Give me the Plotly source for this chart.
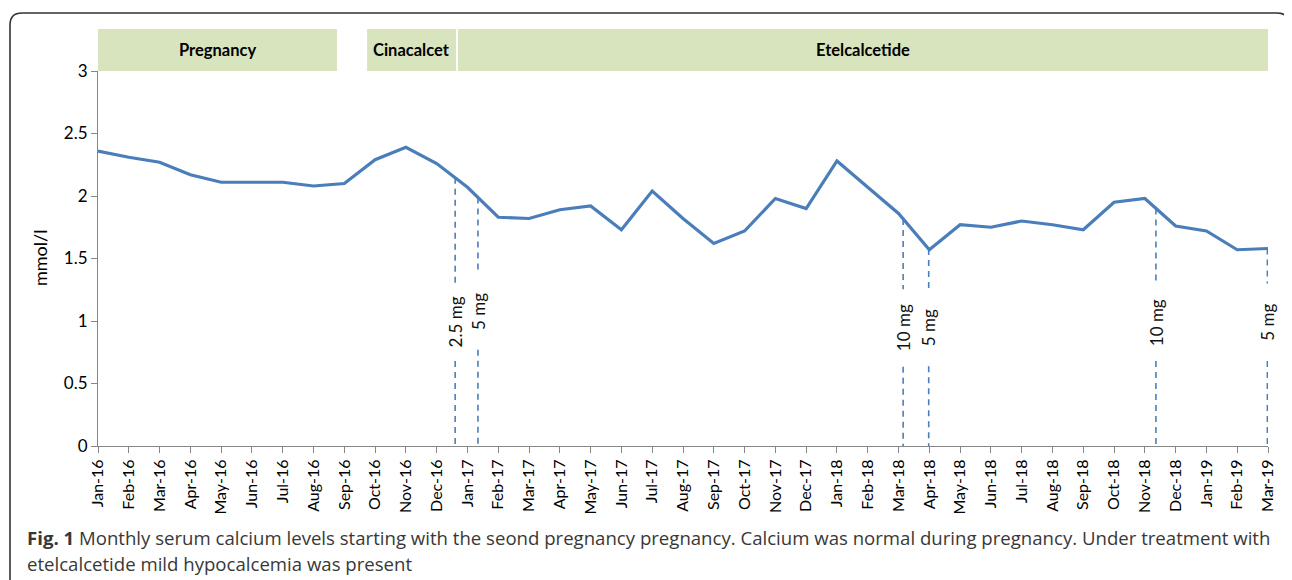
import numpy as np
import plotly.graph_objects as go

# ---------------- data ----------------
months = ["Jan-16", "Feb-16", "Mar-16", "Apr-16", "May-16", "Jun-16", "Jul-16", "Aug-16",
          "Sep-16", "Oct-16", "Nov-16", "Dec-16", "Jan-17", "Feb-17", "Mar-17", "Apr-17",
          "May-17", "Jun-17", "Jul-17", "Aug-17", "Sep-17", "Oct-17", "Nov-17", "Dec-17",
          "Jan-18", "Feb-18", "Mar-18", "Apr-18", "May-18", "Jun-18", "Jul-18", "Aug-18",
          "Sep-18", "Oct-18", "Nov-18", "Dec-18", "Jan-19", "Feb-19", "Mar-19"]
calcium = [2.36, 2.31, 2.27, 2.17, 2.11, 2.11, 2.11, 2.08,
           2.10, 2.29, 2.39, 2.26, 2.07, 1.83, 1.82, 1.89,
           1.92, 1.73, 2.04, 1.82, 1.62, 1.72, 1.98, 1.90,
           2.28, 2.07, 1.86, 1.57, 1.77, 1.75, 1.80, 1.77,
           1.73, 1.95, 1.98, 1.76, 1.72, 1.57, 1.58]

# dose changes (position in months since Jan-16)
dose_pos = [11.6, 12.34, 26.15, 26.98, 34.36, 37.98]
dose_labels = ["2.5 mg", "5 mg", "10 mg", "5 mg", "10 mg", "5 mg"]

# treatment periods (months since Jan-16)
period_names = ["Pregnancy", "Cinacalcet", "Etelcalcetide"]
period_start = [0.0, 8.74, 11.69]
period_end = [7.76, 11.63, 38.0]

y_ticks = [0, 0.5, 1, 1.5, 2, 2.5, 3]

# ---------------- style / layout ----------------
BLUE = "#4A7EBB"
GREEN = "#D7E4BD"
AXIS = "#868686"
FONT = "Lato"
OFF = 8                      # page body margin
W, H = 1292 - OFF, 580 - OFF
L, T = 98 - OFF, 71 - OFF
R = W - (1268 - OFF)
B = H - (446 - OFF)
PW, PH = W - L - R, H - T - B


def px2x(px):               # screen px -> paper x
    return (px - OFF - L) / PW


def py2y(py):               # screen px -> paper y
    return (H - B - (py - OFF)) / PH


label_centers = [0.99, 1.08, 0.944, 0.948, 0.99, 0.99]
half_gap = 0.31

x_idx = list(range(len(months)))
fig = go.Figure()

# dashed dose lines
for pos, lab, cy in zip(dose_pos, dose_labels, label_centers):
    top = float(np.interp(pos, x_idx, calcium))
    xs = [pos, pos, None, pos, pos]
    ys = [top, cy + half_gap, None, cy - half_gap, 0]
    fig.add_trace(go.Scatter(x=xs, y=ys, mode="lines",
                             line=dict(color=BLUE, width=1.6, dash="6px,5px"),
                             hoverinfo="skip", showlegend=False))
    fig.add_annotation(x=pos, y=cy, xref="x", yref="y", text=lab, showarrow=False,
                       textangle=-90, font=dict(family=FONT, size=17, color="#111111"),
                       xanchor="center", yanchor="middle")

# main series
fig.add_trace(go.Scatter(x=x_idx, y=calcium, mode="lines",
                         line=dict(color=BLUE, width=3.2),
                         showlegend=False, hoverinfo="x+y"))

shapes = []
# period header bars
for name, s, e in zip(period_names, period_start, period_end):
    shapes.append(dict(type="rect", xref="x", yref="paper", x0=s, x1=e,
                       y0=1.0, y1=py2y(29), fillcolor=GREEN, line=dict(width=0),
                       layer="below"))
    fig.add_annotation(x=(s + e) / 2, y=(1.0 + py2y(29)) / 2, xref="x", yref="paper",
                       text="<b>" + name + "</b>", showarrow=False,
                       font=dict(family=FONT, size=16.5, color="#000000"),
                       xanchor="center", yanchor="middle")

# outer rounded frame
x0, x1 = px2x(10), px2x(1289)
yt, yb = py2y(13), py2y(620)
rx, ry = 12 / PW, 12 / PH
path = (f"M {x0},{yb} L {x0},{yt - ry} Q {x0},{yt} {x0 + rx},{yt} "
        f"L {x1 - rx},{yt} Q {x1},{yt} {x1},{yt - ry} L {x1},{yb}")
shapes.append(dict(type="path", xref="paper", yref="paper", path=path,
                   line=dict(color="#333333", width=1.6)))

# y-axis title
fig.add_annotation(x=px2x(40), y=py2y(258), xref="paper", yref="paper", text="mmol/l",
                   showarrow=False, textangle=-90, xanchor="center", yanchor="middle",
                   font=dict(family=FONT, size=18, color="#000000"))

# caption
fig.add_annotation(x=px2x(25), y=py2y(537), xref="paper", yref="paper",
                   text="<b>Fig. 1</b> Monthly serum calcium levels starting with the seond pregnancy "
                        "pregnancy. Calcium was normal during pregnancy. Under treatment with",
                   showarrow=False, xanchor="left", yanchor="middle",
                   font=dict(family="Open Sans", size=18.6, color="#383838"))
fig.add_annotation(x=px2x(25), y=py2y(563), xref="paper", yref="paper",
                   text="etelcalcetide mild hypocalcemia was present",
                   showarrow=False, xanchor="left", yanchor="middle",
                   font=dict(family="Open Sans", size=18.6, color="#383838"))

fig.update_layout(
    width=W, height=H,
    margin=dict(l=L, r=R, t=T, b=B, pad=0),
    paper_bgcolor="white", plot_bgcolor="white",
    shapes=shapes,
    showlegend=False,
    xaxis=dict(range=[0, len(months) - 1], tickvals=x_idx, ticktext=months,
               tickangle=-90, showgrid=False, zeroline=False, showline=True,
               linecolor=AXIS, linewidth=1, ticks="outside", ticklen=6,
               tickcolor=AXIS, tickfont=dict(family=FONT, size=16, color="#000000")),
    yaxis=dict(range=[0, 3], tickvals=y_ticks, showgrid=False, zeroline=False,
               showline=True, linecolor=AXIS, linewidth=1, ticks="outside",
               ticklen=6, tickcolor=AXIS,
               tickfont=dict(family=FONT, size=17, color="#000000")),
)

fig.write_html("out.html")
